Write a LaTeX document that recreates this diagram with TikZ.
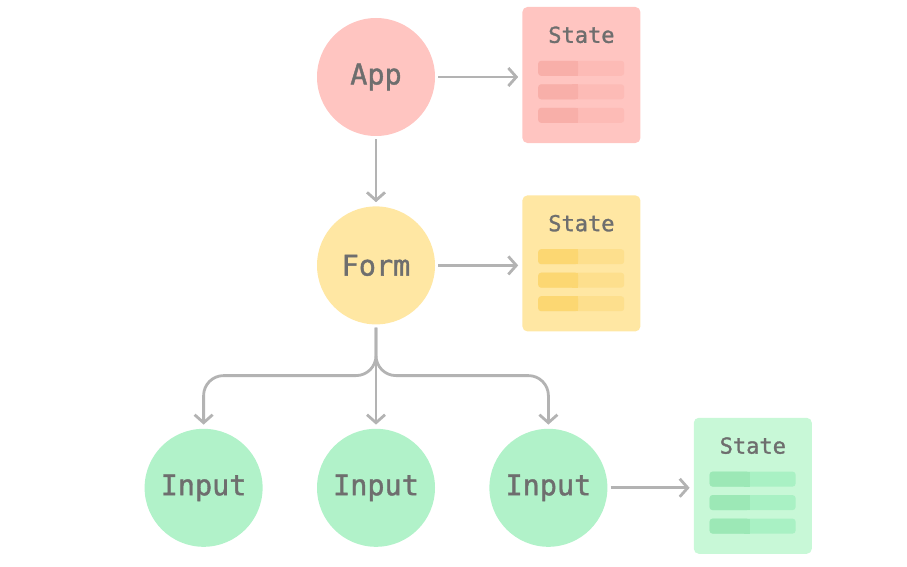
\documentclass[tikz,border=0pt]{standalone}
\usepackage{fontspec}
\setmonofont{DejaVu Sans Mono}
\newfontfamily\labelfont{DejaVu Sans Mono}[FakeBold=1.3]
\usetikzlibrary{positioning}
\usetikzlibrary{calc}
\usetikzlibrary{arrows.meta}

\definecolor{arrowgray}{HTML}{B3B3B3}
\definecolor{labelgray}{HTML}{6E6E6E}
\definecolor{appred}{HTML}{FFC5C1}
\definecolor{appdark}{HTML}{F8AFA9}
\definecolor{applight}{HTML}{FDBBB6}
\definecolor{formyellow}{HTML}{FFE7A3}
\definecolor{formdark}{HTML}{FCD772}
\definecolor{formlight}{HTML}{FDDF8D}
\definecolor{inputgreen}{HTML}{B1F2C9}
\definecolor{stategreen}{HTML}{C8F8D7}
\definecolor{inputdark}{HTML}{9CE8B6}
\definecolor{inputlight}{HTML}{A9F1C4}

% three bars inside a state box: #1 box, #2 dark part, #3 light part
\newcommand{\statebars}[3]{
	\foreach \k in {0,1,2} {
		\fill[#3, rounded corners=3pt] ($(#1.north west)+(16,-54-23.5*\k)$) rectangle ++(86,-15);
		\fill[#2, rounded corners=3pt] ($(#1.north west)+(16,-54-23.5*\k)$) rectangle ++(40,-15);
		\fill[#2] ($(#1.north west)+(50,-54-23.5*\k)$) rectangle ++(6,-15);
	}
}

\begin{document}
\begin{tikzpicture}[x=1pt, y=1pt, >={Straight Barb[length=8pt,width=18pt]}, font=\ttfamily]
	\tikzstyle{comp}=[circle, minimum size=118pt, inner sep=0pt, text=labelgray, font=\labelfont\fontsize{28.5}{30}\selectfont]
	\tikzstyle{statebox}=[rectangle, rounded corners=5pt, minimum width=118pt, minimum height=136pt, inner sep=0pt]
	\tikzstyle{statetitle}=[text=labelgray, inner sep=0pt, font=\labelfont\fontsize{22}{24}\selectfont]
	\tikzstyle{link}=[->, draw=arrowgray, line width=2.8pt, shorten <=3pt, shorten >=4pt]
	
	\useasboundingbox (0,0) rectangle (907,-567);
	
	\node[comp, fill=appred] (app) at (376,-77) {App};
	\node[comp, fill=formyellow, below=70pt of app] (form) {Form};
	\node[comp, fill=inputgreen, below=104pt of form] (in2) {Input};
	\node[comp, fill=inputgreen, left=54pt of in2] (in1) {Input};
	\node[comp, fill=inputgreen, right=54pt of in2] (in3) {Input};
	
	\node[statebox, fill=appred, right=87pt of app, yshift=2pt] (st1) {};
	\node[statebox, fill=formyellow, right=87pt of form, yshift=2pt] (st2) {};
	\node[statebox, fill=stategreen, right=86pt of in3, yshift=2pt] (st3) {};
	
	\node[statetitle] (st1t) at ($(st1.north)+(0,-28)$) {State};
	\node[statetitle] (st2t) at ($(st2.north)+(0,-28)$) {State};
	\node[statetitle] (st3t) at ($(st3.north)+(0,-28)$) {State};
	
	\statebars{st1}{appdark}{applight}
	\statebars{st2}{formdark}{formlight}
	\statebars{st3}{inputdark}{inputlight}
	
	\draw[link] (app) -- (form);
	\draw[link] (app.east) -- (app.east -| st1.west);
	\draw[link] (form.east) -- (form.east -| st2.west);
	\draw[link] (in3.east) -- (in3.east -| st3.west);
	
	\draw[link] (form) -- (in2);
	\draw[link, rounded corners=20pt] (form.south) -- ++(0,-51) -| (in1.north);
	\draw[link, rounded corners=20pt] (form.south) -- ++(0,-51) -| (in3.north);
\end{tikzpicture}
\end{document}
